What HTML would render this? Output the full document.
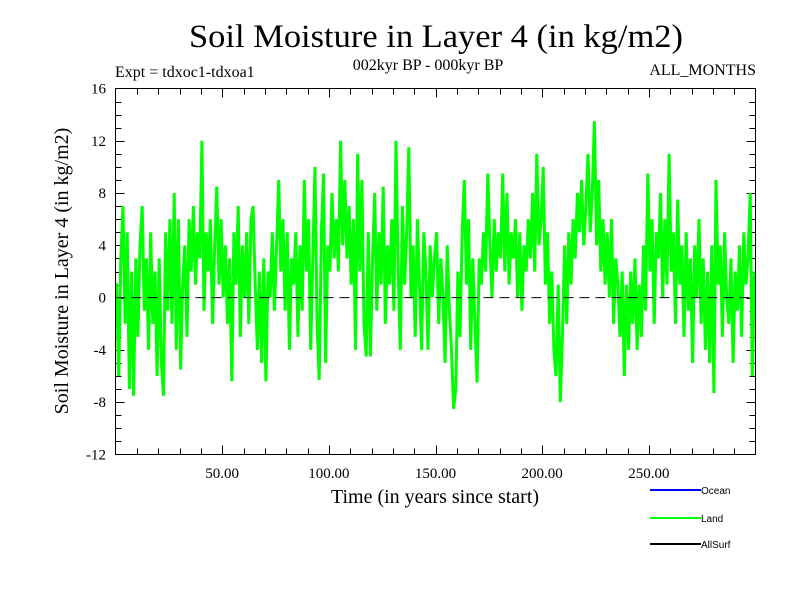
<!DOCTYPE html>
<html><head><meta charset="utf-8"><style>
body{margin:0;background:#fff;width:800px;height:600px;overflow:hidden}
svg text{font-family:"Liberation Serif",serif;fill:#000}
</style></head><body>
<svg id="chart" width="800" height="600" xmlns="http://www.w3.org/2000/svg">
<rect width="800" height="600" fill="#fff"/>
<text x="436" y="47" font-size="33" text-anchor="middle" textLength="494" lengthAdjust="spacingAndGlyphs">Soil Moisture in Layer 4 (in kg/m2)</text>
<text x="115" y="77" font-size="16">Expt = tdxoc1-tdxoa1</text>
<text x="428" y="70" font-size="16" text-anchor="middle">002kyr BP - 000kyr BP</text>
<text x="756" y="75" font-size="16" text-anchor="end">ALL_MONTHS</text>
<g id="axes"></g>
<g id="series"></g>
<rect x="115.5" y="88.5" width="640" height="366" fill="none" stroke="#000" stroke-width="1"/>
<text x="435" y="503" font-size="20" text-anchor="middle">Time (in years since start)</text>
<text x="0" y="0" font-size="20" text-anchor="middle" transform="translate(68,271) rotate(-90)">Soil Moisture in Layer 4 (in kg/m2)</text>
<g>
<line x1="650" y1="490" x2="701" y2="490" stroke="#0000ff" stroke-width="2"/>
<text x="701" y="494" font-size="10" style="font-family:'Liberation Sans',sans-serif">Ocean</text>
<line x1="650" y1="518" x2="701" y2="518" stroke="#00ff00" stroke-width="2"/>
<text x="701" y="522" font-size="10" style="font-family:'Liberation Sans',sans-serif">Land</text>
<line x1="650" y1="544" x2="701" y2="544" stroke="#000" stroke-width="2"/>
<text x="701" y="548" font-size="10" style="font-family:'Liberation Sans',sans-serif">AllSurf</text>
</g>
</svg>
<script>
const xTickValues=[50,100,150,200,250];
const xTickLabels=["50.00","100.00","150.00","200.00","250.00"];
const yTickValues=[-12,-8,-4,0,4,8,12,16];
const yTickLabels=["-12","-8","-4","0","4","8","12","16"];
const landValues=[
1,-6,3,7,-2,5,-7,2,-7.5,3,
-3,4,7,-1,3,-4,5,-2,2,-6,
3,-5,-7.5,5,-1,6,-2,8,-4,6,
-5.5,1,4,-3,6,2,7,1,5,3,
12,-1,5,2,6,-2,4,8.5,1,6,
0,4,-2,3,-6.4,5,1,7,-3,4,
0,5,-2,6,7,1,-4,2,-5,3,
-6.4,2,0,5,-1,4,9,2,6,-1,
5,-4,3,1,5,-3,4,-1,9,2,
6,-4,3,10,-2,-6.3,5,9.5,-5,4,
2,8,3,6,2,12,4,9,3,7,
1,6,-4,11,2,9,-2,-4.5,5,-4.5,
3,8,-1,5,1,8.5,-2,4,1,6,
-1,12,2,-4,7,1,5,11.5,0,4,
-3,6,1,-4,5,2,-4,4,0,3,
5,-2,3,0,-5,4,-1,-4,-8.5,-7,
2,-3,5,9,1,6,-4,3,-2,-6.5,
3,1,5,2,9.5,4,0,6,2,5,
3,9.5,2,8,1,5,3,6,0,5,
-1,4,2,6,3,8,2,11,4,6,
10,1,5,-2,2,-4,-6,1,-8,-3,
4,-2,5,1,6,3,8,5,9,4,
7,11,5,8,13.5,4,9,2,6,1,
5,0,6,-2,3,1,-3,2,-6,1,
-4,2,-2,3,-4,1,-3,4,-1,9.5,
2,6,-2,5,3,8,0,6,1,11,
2,5,-2,7.5,1,4,-3,5,-1,3,
-5,4,0,6,-2,3,-4,2,-5,4,
-7.3,9,1,4,-3,5,0,-2,3,-5,
2,-1,4,-3,5,1,3,8,-6,2];
const X0=115.5,X1=755.5,Y0=454.5,Y1=88.5;
const xMin=0,xMax=300,yMin=-12,yMax=16;
function sx(v){return X0+(v-xMin)/(xMax-xMin)*(X1-X0);}
function sy(v){return Y0-(v-yMin)/(yMax-yMin)*(Y0-Y1);}
const NS="http://www.w3.org/2000/svg";
const axes=document.getElementById('axes');
function mk(tag,attrs,parent){const e=document.createElementNS(NS,tag);for(const k in attrs)e.setAttribute(k,attrs[k]);parent.appendChild(e);return e;}
for(let v=10;v<300;v+=10){
  const len=(v%50===0)?9:6;const x=Math.round(sx(v))+0.5;
  const t1=mk('line',{x1:x,x2:x,y1:Y0,y2:Y0-len,stroke:'#000'},axes);
  
  
  const t2=mk('line',{x1:x,x2:x,y1:Y1,y2:Y1+len,stroke:'#000'},axes);
  
  
}
xTickValues.forEach((v,i)=>{
  const t=mk('text',{x:sx(v),y:478,'font-size':15,'text-anchor':'middle'},axes);
  t.textContent=xTickLabels[i];
  
  
});
for(let v=-11;v<16;v++){
  const len=(v%4===0)?9:6;const y=Math.round(sy(v))+0.5;
  const t1=mk('line',{x1:X0,x2:X0+len,y1:y,y2:y,stroke:'#000'},axes);
  
  
  const t2=mk('line',{x1:X1,x2:X1-len,y1:y,y2:y,stroke:'#000'},axes);
  
  
}
yTickValues.forEach((v,i)=>{
  const t=mk('text',{x:106,y:sy(v)+5,'font-size':15,'text-anchor':'end'},axes);
  t.textContent=yTickLabels[i];
  
  
});
const series=document.getElementById('series');
const pts=landValues.map((v,i)=>sx(i+0.5).toFixed(1)+','+sy(v).toFixed(1));
pts.unshift(sx(0).toFixed(1)+','+sy(1).toFixed(1));
const pl=mk('polyline',{points:pts.join(' '),fill:'none',stroke:'#00ff00','stroke-width':3,'stroke-linejoin':'miter'},series);


const zl=mk('line',{x1:X0,x2:X1,y1:sy(0),y2:sy(0),stroke:'#000','stroke-dasharray':'10,6'},series);


</script>
</body></html>
